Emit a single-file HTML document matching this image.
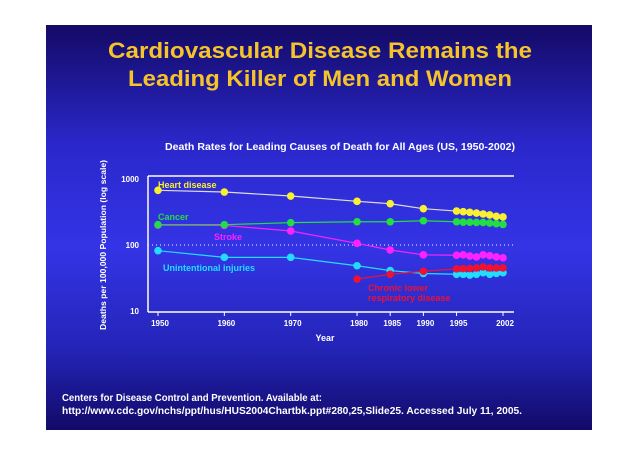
<!DOCTYPE html>
<html><head><meta charset="utf-8"><style>
html,body{margin:0;padding:0;background:#fff;}
svg{display:block;font-family:"Liberation Sans",sans-serif;}
</style></head><body>
<svg width="638" height="451" viewBox="0 0 638 451">
<defs>
<linearGradient id="bg" x1="0" y1="0" x2="0" y2="1">
<stop offset="0" stop-color="#140a66"/>
<stop offset="0.3" stop-color="#2a28cc"/>
<stop offset="0.55" stop-color="#3434e6"/>
<stop offset="0.8" stop-color="#2424b8"/>
<stop offset="1" stop-color="#120a68"/>
</linearGradient>
</defs>
<rect x="46" y="25" width="546" height="405" fill="url(#bg)"/>
<text x="320" y="58" text-anchor="middle" font-size="22" font-weight="bold" fill="#f6c42a" textLength="424" lengthAdjust="spacingAndGlyphs">Cardiovascular Disease Remains the</text>
<text x="320" y="86" text-anchor="middle" font-size="22" font-weight="bold" fill="#f6c42a" textLength="384" lengthAdjust="spacingAndGlyphs">Leading Killer of Men and Women</text>
<text x="340" y="150" text-anchor="middle" font-size="10" font-weight="bold" fill="#fff" textLength="350" lengthAdjust="spacingAndGlyphs">Death Rates for Leading Causes of Death for All Ages (US, 1950-2002)</text>
<text transform="translate(106,245) rotate(-90)" text-anchor="middle" font-size="8" font-weight="bold" fill="#fff" textLength="170" lengthAdjust="spacingAndGlyphs">Deaths per 100,000 Population (log scale)</text>
<text x="325" y="341" text-anchor="middle" font-size="9" font-weight="bold" fill="#fff">Year</text>
<g id="plot"></g>
<text x="62" y="401" font-size="10" font-weight="bold" fill="#fff" textLength="260" lengthAdjust="spacingAndGlyphs">Centers for Disease Control and Prevention. Available at:</text>
<text x="62" y="414" font-size="10" font-weight="bold" fill="#fff" textLength="460" lengthAdjust="spacingAndGlyphs">http://www.cdc.gov/nchs/ppt/hus/HUS2004Chartbk.ppt#280,25,Slide25. Accessed July 11, 2005.</text>
</svg>
<script>
const years=[1950,1960,1970,1980,1985,1990,1995,1996,1997,1998,1999,2000,2001,2002];
const tickYears=[1950,1960,1970,1980,1985,1990,1995,2002];
const yTicks=[10,100,1000];
const heart=[674,635,552,459,422,355,327,320,313,305,295,285,272,266];
const cancer=[203,203,218,225,225,233,225,222,222,220,220,215,210,205];
const stroke=[200,198,163,106,84,71,70,71,68,66,71,69,66,64];
const injuries=[82,65,65,48.5,41,37,36,36,35,36,38,36,37,38];
const crdYears=[1980,1985,1990,1995,1996,1997,1998,1999,2000,2001,2002];
const crd=[30.5,36,40,43.6,44,44,45,46.5,45,45,45];
const NS='http://www.w3.org/2000/svg';
const X=y=>158+(y-1950)*(345/52);
const Y=v=>311-(Math.log10(v)-1)*66;
const g=document.getElementById('plot');
function mk(t,a){const e=document.createElementNS(NS,t);for(const k in a)e.setAttribute(k,a[k]);g.appendChild(e);return e;}
let e;
e=mk('line',{x1:148,y1:176,x2:514,y2:176,stroke:'#fff','stroke-width':1.5});


e=mk('line',{x1:148,y1:176,x2:148,y2:312,stroke:'#fff','stroke-width':1.5});


e=mk('line',{x1:148,y1:312,x2:514,y2:312,stroke:'#fff','stroke-width':1.5});


e=mk('line',{x1:148,y1:Y(100),x2:514,y2:Y(100),stroke:'#fff','stroke-width':1,'stroke-dasharray':'1,3'});


yTicks.forEach(v=>{
 e=mk('text',{x:139,y:Y(v)+3,'text-anchor':'end','font-size':8,'font-weight':'bold',fill:'#fff'});e.textContent=v;
 
 
});
tickYears.forEach(yr=>{
 e=mk('line',{x1:X(yr),y1:312,x2:X(yr),y2:316,stroke:'#fff'});
 
 
 e=mk('text',{x:X(yr)+2,y:326,'text-anchor':'middle','font-size':8,'font-weight':'bold',fill:'#fff'});e.textContent=yr;
 
 
});
function series(xs,vals,col,name){
 e=mk('polyline',{points:xs.map((y,i)=>X(y)+','+Y(vals[i])).join(' '),fill:'none',stroke:col==='#f8f030'?'#ddd':col,'stroke-width':1.2});
 
 
 xs.forEach((y,i)=>{
  e=mk('circle',{cx:X(y),cy:Y(vals[i]),r:3.8,fill:col});
  
  
 });
}
series(years,stroke,'#ff22ff','stroke');
series(years,cancer,'#22dd44','cancer');
series(years,injuries,'#22ddff','injuries');
series(crdYears,crd,'#ee1133','chronic-respiratory');
series(years,heart,'#f8f030','heart-disease');
function lbl(x,y,t,c,n){e=mk('text',{x:x,y:y,'font-size':9,'font-weight':'bold',fill:c});e.textContent=t;
 
 }
lbl(158,188,'Heart disease','#f8f030','heart-disease-label');
lbl(158,220,'Cancer','#22dd44','cancer-label');
lbl(214,240,'Stroke','#ff22ff','stroke-label');
lbl(163,271,'Unintentional injuries','#22ddff','injuries-label');
lbl(368,291,'Chronic lower','#ee1133','chronic-label-1');
lbl(368,301,'respiratory disease','#ee1133','chronic-label-2');
</script>
</body></html>
